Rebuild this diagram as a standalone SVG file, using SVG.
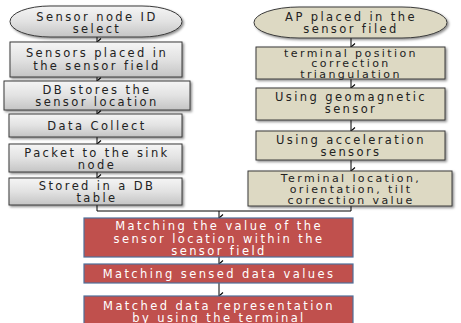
<svg xmlns="http://www.w3.org/2000/svg" width="461" height="323" viewBox="0 0 461 323">
<defs>
<linearGradient id="gray" x1="0" y1="0" x2="0" y2="1">
<stop offset="0" stop-color="#f5f5f5"/>
<stop offset="0.5" stop-color="#e2e2e2"/>
<stop offset="1" stop-color="#c4c4c4"/>
</linearGradient>
<filter id="sh" x="-10%" y="-10%" width="130%" height="150%">
<feDropShadow dx="1.5" dy="1.5" stdDeviation="0.8" flood-color="#000" flood-opacity="0.45"/>
</filter>
<marker id="ah" markerWidth="8" markerHeight="6" refX="4" refY="5" orient="auto-start-reverse" markerUnits="userSpaceOnUse" viewBox="0 0 8 6">
<path d="M0.5,1 L4,5 L7.5,1" fill="none" stroke="#000" stroke-width="1.1"/>
</marker>
</defs>
<style>
.g{fill:url(#gray);stroke:#3a3a3a;stroke-width:1;filter:url(#sh)}
.b{fill:#ddd9c3;stroke:#3a3a3a;stroke-width:1;filter:url(#sh)}
.r{fill:#c0504d;stroke:#4f6f9a;stroke-width:1.2}
text{font-family:"DejaVu Sans","Liberation Sans",sans-serif;font-size:11.5px;letter-spacing:2.4px;text-anchor:middle;fill:#222}
.s{font-size:11px}
.w{fill:#fff}
.c{fill:none;stroke:#000;stroke-width:1}
</style>
<g id="connectors">
<line class="c" x1="97" y1="37" x2="97" y2="42" marker-end="url(#ah)"/>
<line class="c" x1="97" y1="77" x2="97" y2="81" marker-end="url(#ah)"/>
<line class="c" x1="97" y1="110" x2="97" y2="114" marker-end="url(#ah)"/>
<line class="c" x1="97" y1="137" x2="97" y2="144" marker-end="url(#ah)"/>
<line class="c" x1="97" y1="172" x2="97" y2="178" marker-end="url(#ah)"/>
<line class="c" x1="351" y1="38" x2="351" y2="47" marker-end="url(#ah)"/>
<line class="c" x1="351" y1="79" x2="351" y2="88" marker-end="url(#ah)"/>
<line class="c" x1="351" y1="120" x2="351" y2="131" marker-end="url(#ah)"/>
<line class="c" x1="351" y1="160" x2="351" y2="171" marker-end="url(#ah)"/>
<polyline class="c" points="97,205 97,211 351,211 351,206"/>
<line class="c" x1="219" y1="211" x2="219" y2="218" marker-end="url(#ah)"/>
<line class="c" x1="219" y1="257" x2="219" y2="264" marker-end="url(#ah)"/>
<line class="c" x1="219" y1="283" x2="219" y2="296" marker-end="url(#ah)"/>
</g>
<g id="n1"><rect class="g" x="10" y="6" width="172" height="31" rx="40" ry="15.5"/><text x="97" y="20.5">Sensor node ID</text><text x="97" y="32.5">select</text></g>
<g id="n2"><rect class="g" x="10" y="42" width="172" height="35"/><text x="97" y="57">Sensors placed in</text><text x="97" y="69.5">the sensor field</text></g>
<g id="n3"><rect class="g" x="4" y="81" width="186" height="29"/><text x="97" y="94">DB stores the</text><text x="97" y="106">sensor location</text></g>
<g id="n4"><rect class="g" x="9" y="114" width="173" height="23"/><text x="97" y="129.5">Data Collect</text></g>
<g id="n5"><rect class="g" x="9" y="144" width="173" height="28"/><text x="97" y="156.5">Packet to the sink</text><text x="97" y="168.5">node</text></g>
<g id="n6"><rect class="g" x="9" y="178" width="173" height="27"/><text x="97" y="190">Stored in a DB</text><text x="97" y="202">table</text></g>
<g id="m1"><rect class="b" x="254" y="7" width="193" height="31" rx="45" ry="15.5"/><text x="351" y="21">AP placed in the</text><text x="351" y="33">sensor filed</text></g>
<g id="m2"><rect class="b" x="256" y="47" width="189" height="32"/><text class="s" x="351" y="56.5">terminal position</text><text class="s" x="351" y="67">correction</text><text class="s" x="351" y="77.5">triangulation</text></g>
<g id="m3"><rect class="b" x="256" y="88" width="189" height="32"/><text x="351" y="101">Using geomagnetic</text><text x="351" y="113">sensor</text></g>
<g id="m4"><rect class="b" x="256" y="131" width="189" height="29"/><text x="351" y="143.5">Using acceleration</text><text x="351" y="155.5">sensors</text></g>
<g id="m5"><rect class="b" x="248" y="171" width="204" height="35"/><text class="s" x="351" y="182">Terminal location,</text><text class="s" x="351" y="193">orientation, tilt</text><text class="s" x="351" y="204">correction value</text></g>
<g id="r1"><rect class="r" x="84" y="218" width="269" height="39"/><text class="w" x="219" y="230">Matching the value of the</text><text class="w" x="219" y="242.5">sensor location within the</text><text class="w" x="219" y="254.5">sensor field</text></g>
<g id="r2"><rect class="r" x="84" y="264" width="269" height="19"/><text class="w" x="219" y="278">Matching sensed data values</text></g>
<g id="r3"><rect class="r" x="84" y="296" width="269" height="30"/><text class="w" x="219" y="310">Matched data representation</text><text class="w" x="219" y="321.5">by using the terminal</text></g>
</svg>
